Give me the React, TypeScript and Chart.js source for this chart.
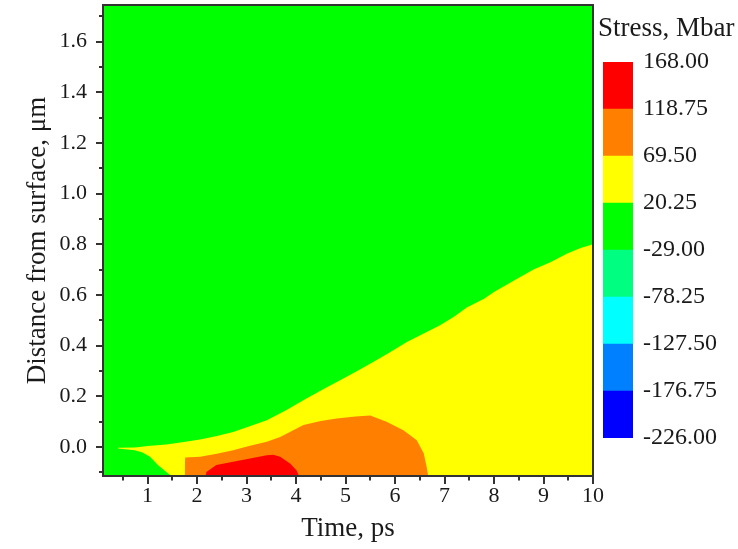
import React, { useEffect, useRef } from 'react';
import { Chart, registerables } from 'chart.js';

Chart.register(...registerables);

const FONT = "'Liberation Serif', 'Times New Roman', serif";
const INK = '#1a1a1a';
const FRAME = '#333333';

// Axes: time in ps, distance from surface in μm
const timeMin = 0.1;
const timeMax = 10;
const depthMin = -0.115;
const depthMax = 1.745;
const timeTicks = [1, 2, 3, 4, 5, 6, 7, 8, 9, 10];
const timeMinorTicks = [0.5, 1.5, 2.5, 3.5, 4.5, 5.5, 6.5, 7.5, 8.5, 9.5];
const depthTicks = [0.0, 0.2, 0.4, 0.6, 0.8, 1.0, 1.2, 1.4, 1.6];
const depthMinorTicks = [-0.1, 0.1, 0.3, 0.5, 0.7, 0.9, 1.1, 1.3, 1.5, 1.7];

// Stress contour levels (Mbar), lowest first, and the fill of each band between them
const stressTitle = 'Stress, Mbar';
const stressLevels = [-226.0, -176.75, -127.5, -78.25, -29.0, 20.25, 69.5, 118.75, 168.0];
const bandColors = ['#0000FF', '#0080FF', '#00FFFF', '#00FF80', '#00FF00', '#FFFF00', '#FF8000', '#FF0000'];

// Upper edges of the contour regions as [time, depth]; each region fills down to the axis bottom
const greenTop: [number, number][] = [[0.1, 1.745], [10, 1.745]];
const yellowTop: [number, number][] = [
  [0.4, -0.003], [0.74, -0.002], [0.84, 0.0], [1.0, 0.003], [1.38, 0.009], [1.7, 0.018],
  [2.06, 0.029], [2.4, 0.043], [2.73, 0.059], [3.05, 0.08], [3.41, 0.105], [3.8, 0.145],
  [4.21, 0.191], [4.55, 0.228], [4.89, 0.263], [5.2, 0.296], [5.56, 0.335], [5.9, 0.374],
  [6.24, 0.414], [6.55, 0.445], [6.91, 0.48], [7.2, 0.515], [7.45, 0.55], [7.8, 0.585],
  [8.0, 0.612], [8.45, 0.662], [8.8, 0.7], [9.15, 0.73], [9.47, 0.763], [9.75, 0.785], [10.0, 0.8],
];
const greenCornerTop: [number, number][] = [
  [0.1, -0.006], [0.4, -0.006], [0.74, -0.013], [0.9, -0.022], [1.05, -0.039],
  [1.21, -0.072], [1.38, -0.099], [1.48, -0.115],
];
const orangeTop: [number, number][] = [
  [1.75, -0.115], [1.76, -0.042], [2.06, -0.039], [2.4, -0.027], [2.73, -0.013], [3.05, 0.003],
  [3.41, 0.02], [3.68, 0.039], [4.15, 0.086], [4.5, 0.102], [4.82, 0.112], [5.2, 0.12],
  [5.5, 0.124], [5.83, 0.099], [6.17, 0.066], [6.44, 0.026], [6.58, -0.025], [6.64, -0.079], [6.67, -0.115],
];
const redTop: [number, number][] = [
  [2.17, -0.115], [2.19, -0.099], [2.39, -0.072], [2.73, -0.059], [3.07, -0.046], [3.41, -0.033],
  [3.54, -0.031], [3.68, -0.039], [3.88, -0.066], [4.01, -0.092], [4.06, -0.115],
];

const region = (pts: [number, number][], color: string, order: number) => ({
  data: pts.map(([x, y]) => ({ x, y })),
  backgroundColor: color,
  borderColor: 'rgba(0,0,0,0)',
  borderWidth: 0,
  pointRadius: 0,
  fill: 'start',
  tension: 0,
  order,
});

// Keep the plot box fixed: no extra room for labels overhanging the ends of an axis
const noOverhang = (s: any) => {
  s.paddingLeft = 0;
  s.paddingRight = 0;
  s.paddingTop = 0;
  s.paddingBottom = 0;
};

// Frame around the plot plus major and minor tick marks
const axisFrame = {
  id: 'axisFrame',
  afterDraw(chart: any) {
    const { ctx, chartArea: a, scales } = chart;
    const x = scales.x;
    const y = scales.y;
    ctx.save();
    ctx.strokeStyle = FRAME;
    ctx.lineWidth = 2;
    ctx.strokeRect(a.left, a.top, a.right - a.left, a.bottom - a.top);
    ctx.beginPath();
    const xTick = (v: number, len: number) => {
      const px = Math.round(x.getPixelForValue(v));
      ctx.moveTo(px, a.bottom);
      ctx.lineTo(px, a.bottom + len);
    };
    const yTick = (v: number, len: number) => {
      const py = Math.round(y.getPixelForValue(v));
      ctx.moveTo(a.left, py);
      ctx.lineTo(a.left - len, py);
    };
    timeTicks.forEach((v) => xTick(v, 8));
    timeMinorTicks.forEach((v) => xTick(v, 4.5));
    depthTicks.forEach((v) => yTick(v, 7));
    depthMinorTicks.forEach((v) => yTick(v, 4));
    ctx.stroke();
    ctx.restore();
  },
};

// Colour-scale heading, left-aligned a little ahead of the bar
const scaleHeading = {
  id: 'scaleHeading',
  afterDraw(chart: any) {
    const { ctx, chartArea: a } = chart;
    ctx.save();
    ctx.fillStyle = INK;
    ctx.font = `27px ${FONT}`;
    ctx.textAlign = 'left';
    ctx.textBaseline = 'alphabetic';
    ctx.fillText(stressTitle, a.left - 5, a.top - 26);
    ctx.restore();
  },
};

export default function App() {
  const mainRef = useRef<HTMLCanvasElement>(null);
  const barRef = useRef<HTMLCanvasElement>(null);

  useEffect(() => {
    const main = new Chart(mainRef.current!, {
      type: 'line',
      data: {
        datasets: [
          region(redTop, bandColors[7], 1),
          region(orangeTop, bandColors[6], 2),
          region(greenCornerTop, bandColors[4], 3),
          region(yellowTop, bandColors[5], 4),
          region(greenTop, bandColors[4], 5),
        ] as any,
      },
      options: {
        animation: false,
        responsive: false,
        events: [],
        layout: { padding: { left: 0, right: 17, top: 5, bottom: 0 } },
        plugins: { legend: { display: false }, tooltip: { enabled: false }, title: { display: false } },
        scales: {
          x: {
            type: 'linear',
            min: timeMin,
            max: timeMax,
            afterBuildTicks: (s: any) => { s.ticks = timeTicks.map((value) => ({ value })); },
            afterFit: (s: any) => { s.height = 73; noOverhang(s); },
            grid: { display: false, drawTicks: false },
            border: { display: false },
            ticks: {
              autoSkip: false,
              maxRotation: 0,
              padding: 7,
              color: INK,
              font: { family: FONT, size: 22 },
              callback: (v: any) => String(v),
            },
            title: {
              display: true,
              text: 'Time, ps',
              color: INK,
              font: { family: FONT, size: 27 },
              padding: { top: 0, bottom: 4 },
            },
          },
          y: {
            type: 'linear',
            min: depthMin,
            max: depthMax,
            afterBuildTicks: (s: any) => { s.ticks = depthTicks.map((value) => ({ value })); },
            afterFit: (s: any) => { s.width = 103; noOverhang(s); },
            grid: { display: false, drawTicks: false },
            border: { display: false },
            ticks: {
              autoSkip: false,
              padding: 16,
              color: INK,
              font: { family: FONT, size: 22 },
              callback: (v: any) => Number(v).toFixed(1),
            },
            title: {
              display: true,
              text: 'Distance from surface, μm',
              color: INK,
              font: { family: FONT, size: 27 },
              padding: { top: 22, bottom: 0 },
            },
          },
        },
      } as any,
      plugins: [axisFrame],
    });

    const bar = new Chart(barRef.current!, {
      type: 'bar',
      data: {
        labels: ['stress'],
        datasets: bandColors.map((color, i) => ({
          data: [[stressLevels[i], stressLevels[i + 1]]],
          backgroundColor: color,
          borderWidth: 0,
          barPercentage: 1,
          categoryPercentage: 1,
          grouped: false,
        })) as any,
      },
      options: {
        animation: false,
        responsive: false,
        events: [],
        layout: { padding: { left: 13, right: 0, top: 62, bottom: 111 } },
        plugins: {
          legend: { display: false },
          tooltip: { enabled: false },
          title: { display: false },
        },
        scales: {
          x: { display: false },
          y: {
            position: 'right',
            min: stressLevels[0],
            max: stressLevels[stressLevels.length - 1],
            afterBuildTicks: (s: any) => { s.ticks = stressLevels.map((value) => ({ value })); },
            afterFit: (s: any) => { s.width = 105; noOverhang(s); },
            grid: { display: false, drawTicks: false },
            border: { display: false },
            ticks: {
              autoSkip: false,
              padding: 10,
              color: INK,
              font: { family: FONT, size: 24 },
              callback: (v: any) => Number(v).toFixed(2),
            },
          },
        },
      } as any,
      plugins: [scaleHeading],
    });

    return () => {
      main.destroy();
      bar.destroy();
    };
  }, []);

  return (
    <div style={{ position: 'absolute', left: 0, top: 0, width: 738, height: 549, background: '#ffffff' }}>
      <canvas ref={mainRef} width={610} height={549} style={{ position: 'absolute', left: 0, top: 0 }} />
      <canvas ref={barRef} width={148} height={549} style={{ position: 'absolute', left: 590, top: 0 }} />
    </div>
  );
}
